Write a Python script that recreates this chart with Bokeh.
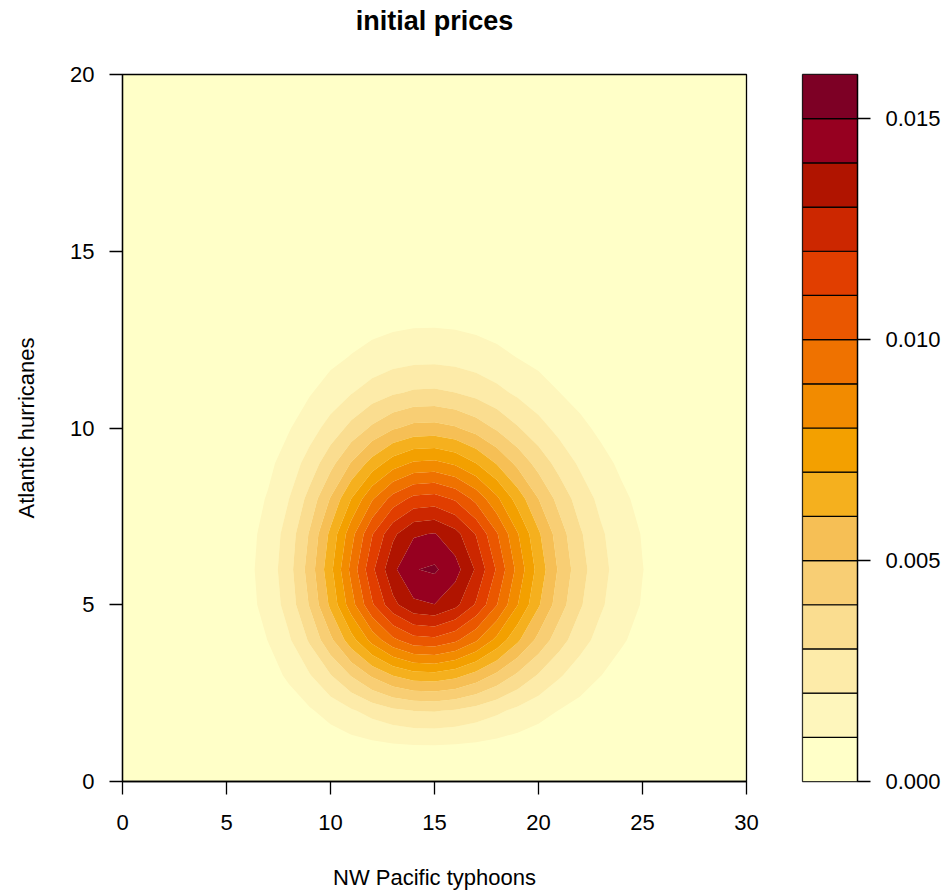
import numpy as np
from bokeh.plotting import figure
from bokeh.layouts import row, column
from bokeh.models import Range1d, FixedTicker, PrintfTickFormatter
from bokeh.embed import file_html
from bokeh.resources import INLINE

TITLE = "initial prices"
X_LABEL = "NW Pacific typhoons"
Y_LABEL = "Atlantic hurricanes"

# grid of the surface
typhoons = list(range(0, 31))      # x: NW Pacific typhoons 0..30
hurricanes = list(range(0, 21))    # y: Atlantic hurricanes 0..20

x_ticks = [0, 5, 10, 15, 20, 25, 30]
y_ticks = [0, 5, 10, 15, 20]

levels = [0.000, 0.001, 0.002, 0.003, 0.004, 0.005, 0.006, 0.007, 0.008,
          0.009, 0.010, 0.011, 0.012, 0.013, 0.014, 0.015, 0.016]
level_ticks = [0.000, 0.005, 0.010, 0.015]
level_colors = ["#FFFFC8", "#FEF6BC", "#FDEBA9", "#FADD90", "#F8CE74", "#F6BF55",
                "#F5B01E", "#F3A000", "#F28B00", "#EF7200", "#EA5700", "#E13E00",
                "#CC2700", "#B01400", "#960020", "#7D0025"]

# estimated prices, in units of 1e-5; rows = hurricanes 0..20, cols = typhoons 0..30
density_e5 = [
    [0,0,0,0,0,0,1,1,3,4,6,9,11,13,14,14,14,12,10,8,6,5,3,2,1,1,1,0,0,0,0],
    [0,0,0,0,1,2,5,9,16,27,42,58,73,85,93,94,89,80,67,54,41,30,21,14,10,6,4,2,1,1,0],
    [0,0,0,1,2,7,15,29,53,89,136,187,237,278,301,305,290,259,219,175,134,97,68,47,31,21,13,8,4,2,1],
    [0,0,0,1,5,14,33,63,115,193,294,406,514,602,653,662,629,562,475,380,290,211,147,101,67,45,28,17,10,5,3],
    [0,0,0,2,7,23,54,102,187,314,477,660,835,977,1061,1075,1021,913,771,617,471,343,240,164,109,73,45,27,16,8,4],
    [0,0,0,2,10,30,70,133,243,409,621,858,1087,1271,1380,1398,1329,1188,1003,802,612,446,312,213,142,94,59,36,21,11,5],
    [0,0,0,3,10,33,76,144,264,443,672,930,1177,1377,1495,1515,1439,1287,1087,869,663,483,338,231,154,102,64,38,22,12,6],
    [0,0,0,2,10,30,70,133,245,411,624,863,1093,1278,1388,1406,1336,1194,1009,807,616,448,313,214,143,95,59,36,21,11,5],
    [0,0,0,2,8,25,57,108,199,334,507,701,888,1039,1128,1142,1085,970,820,656,500,364,255,174,116,77,48,29,17,9,4],
    [0,0,0,1,6,18,41,78,144,241,366,507,641,750,815,825,784,701,592,473,361,263,184,126,84,56,35,21,12,6,3],
    [0,0,0,1,4,12,27,51,93,157,238,329,417,488,530,536,510,456,385,308,235,171,120,82,55,36,23,14,8,4,2],
    [0,0,0,1,2,7,16,30,55,93,141,195,246,288,313,317,301,269,227,182,139,101,71,48,32,21,13,8,5,2,1],
    [0,0,0,0,1,4,9,16,30,50,76,105,133,156,169,172,163,146,123,98,75,55,38,26,17,12,7,4,3,1,1],
    [0,0,0,0,1,2,4,8,15,25,38,53,67,78,85,86,82,73,62,49,38,27,19,13,9,6,4,2,1,1,0],
    [0,0,0,0,0,1,2,4,7,12,18,24,31,36,39,40,38,34,29,23,17,13,9,6,4,3,2,1,1,0,0],
    [0,0,0,0,0,0,1,2,3,5,8,11,13,16,17,17,16,15,12,10,8,5,4,3,2,1,1,0,0,0,0],
    [0,0,0,0,0,0,0,1,1,2,3,4,5,6,7,7,7,6,5,4,3,2,2,1,1,0,0,0,0,0,0],
    [0,0,0,0,0,0,0,0,0,1,1,2,2,2,3,3,3,2,2,2,1,1,1,0,0,0,0,0,0,0,0],
    [0,0,0,0,0,0,0,0,0,0,0,1,1,1,1,1,1,1,1,1,0,0,0,0,0,0,0,0,0,0,0],
    [0]*31,
    [0]*31,
]

FONT = "Liberation Sans"
TXT = "black"

z = np.array(density_e5, dtype=float) / 1e5

TITLE_H = 44

# ---------------- title strip ----------------
tf = figure(width=774, height=TITLE_H, title=TITLE,
            x_range=Range1d(0, 1), y_range=Range1d(0, 1),
            x_axis_location=None, y_axis_location=None,
            min_border_left=122, min_border_right=28, min_border_top=0, min_border_bottom=0,
            outline_line_color=None, background_fill_color="white", border_fill_color="white",
            output_backend="svg", toolbar_location=None)
tf.xgrid.visible = False
tf.ygrid.visible = False
tf.title.text_font = FONT
tf.title.text_font_size = "27px"
tf.title.text_font_style = "bold"
tf.title.text_color = TXT
tf.title.align = "center"
tf.title.standoff = 6

# ---------------- main panel ----------------
p = figure(frame_width=624, frame_height=707,
           x_range=Range1d(0, 30), y_range=Range1d(0, 20),
           min_border_left=122, min_border_right=28,
           min_border_top=74 - TITLE_H, min_border_bottom=111,
           background_fill_color=level_colors[0], border_fill_color="white",
           output_backend="svg", toolbar_location=None)

# lowest band (0 - 0.001) is the frame background; the other bands are filled contours
p.contour(x=np.array(typhoons, dtype=float), y=np.array(hurricanes, dtype=float), z=z,
          levels=levels[1:], fill_color=level_colors[1:], line_color=None)

p.xgrid.visible = False
p.ygrid.visible = False
p.outline_line_color = "black"
p.outline_line_width = 1.3
p.outline_line_alpha = 1.0

for ax, ticks, lab in ((p.xaxis[0], x_ticks, X_LABEL), (p.yaxis[0], y_ticks, Y_LABEL)):
    ax.ticker = FixedTicker(ticks=ticks, minor_ticks=[])
    ax.axis_label = lab
    ax.axis_label_text_font = FONT
    ax.axis_label_text_font_size = "22px"
    ax.axis_label_text_font_style = "normal"
    ax.axis_label_text_color = TXT
    ax.major_label_text_font = FONT
    ax.major_label_text_font_size = "22px"
    ax.major_label_text_color = TXT
    ax.axis_line_color = "black"
    ax.axis_line_width = 1.3
    ax.major_tick_line_color = "black"
    ax.major_tick_line_width = 1.3
    ax.major_tick_out = 13
    ax.major_tick_in = 0
    ax.minor_tick_line_color = None

p.xaxis.major_label_standoff = 20
p.xaxis.axis_label_standoff = 32
p.yaxis.major_label_standoff = 15
p.yaxis.major_label_orientation = "horizontal"
p.yaxis.axis_label_standoff = 28

# ---------------- colour key ----------------
cb = figure(frame_width=55, frame_height=707,
            x_range=Range1d(0, 1), y_range=Range1d(levels[0], levels[-1]),
            min_border_left=28, min_border_right=86,
            min_border_top=74 - TITLE_H, min_border_bottom=111,
            x_axis_location=None, y_axis_location="right",
            border_fill_color="white",
            output_backend="svg", toolbar_location=None)
cb.quad(left=0, right=1, bottom=levels[:-1], top=levels[1:],
        fill_color=level_colors, line_color="black", line_width=1.2)
cb.xgrid.visible = False
cb.ygrid.visible = False
cb.outline_line_color = "#333333"
cb.outline_line_width = 1.3

ya = cb.yaxis[0]
ya.ticker = FixedTicker(ticks=level_ticks, minor_ticks=[])
ya.formatter = PrintfTickFormatter(format="%.3f")
ya.major_label_text_font = FONT
ya.major_label_text_font_size = "22px"
ya.major_label_text_color = TXT
ya.axis_line_color = "black"
ya.axis_line_width = 1.3
ya.major_tick_line_color = "black"
ya.major_tick_line_width = 1.3
ya.major_tick_out = 13
ya.major_tick_in = 0
ya.minor_tick_line_color = None
ya.major_label_standoff = 15

layout = column(tf, row(p, cb))

open("out.html", "w").write(file_html(layout, INLINE))
